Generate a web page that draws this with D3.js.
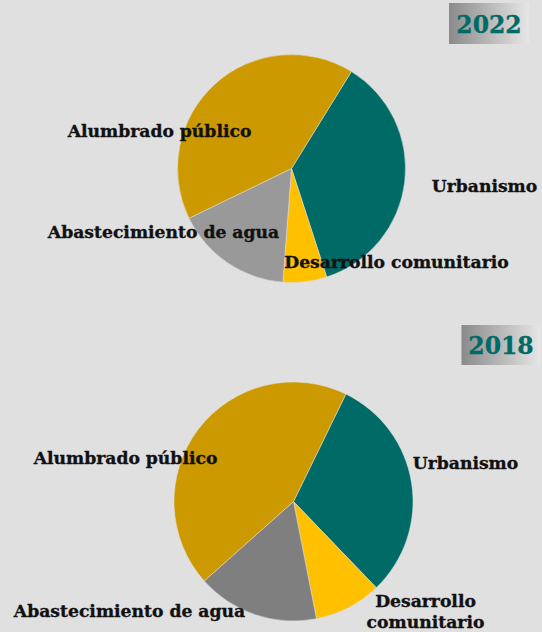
<!DOCTYPE html>
<html>
<head>
<meta charset="utf-8">
<script src="https://cdn.jsdelivr.net/npm/d3@7"></script>
<style>
  html, body { margin: 0; padding: 0; background: #e0e0e0; }
  svg { display: block; }
  .label { font-family: "DejaVu Serif", serif; font-weight: bold; font-size: 17.2px; fill: #111; stroke: #111; stroke-width: 0.35px; }
  .year { font-family: "DejaVu Serif", serif; font-weight: bold; font-size: 23.5px; fill: #006a66; stroke: #006a66; stroke-width: 0.3px; }
</style>
</head>
<body>
<div id="chart"></div>
<script>
(function() {

const w = 542;
const h = 632;

const categories = ["Urbanismo", "Desarrollo comunitario", "Abastecimiento de agua", "Alumbrado público"];
const values2022 = [36.2, 6.2, 16.6, 41.0];
const values2018 = [30.6, 9.1, 16.5, 43.8];
const years = ["2022", "2018"];

const colours2022 = ["#006a66", "#ffc000", "#999999", "#cc9a00"];
const colours2018 = ["#006a66", "#ffc000", "#7f7f7f", "#cc9a00"];

// layout for each pie: centre, radius, start angle (deg), year box, label offsets
const charts = [
    {
        year: years[0], values: values2022, colours: colours2022,
        cx: 291.5, cy: 168.5, r: 114, start: 31.7,
        box: {x: 449, y: 3, w: 80, h: 41},
        labels: [
            {dx: 193, dy: 23, lines: ["Urbanismo"]},
            {dx: 105, dy: 99, lines: ["Desarrollo comunitario"]},
            {dx: -128, dy: 69, lines: ["Abastecimiento de agua"]},
            {dx: -132, dy: -32, lines: ["Alumbrado público"]}
        ]
    },
    {
        year: years[1], values: values2018, colours: colours2018,
        cx: 293.5, cy: 501.5, r: 119.5, start: 26.0,
        box: {x: 461.5, y: 325, w: 79, h: 40},
        labels: [
            {dx: 172, dy: -33, lines: ["Urbanismo"]},
            {dx: 132, dy: 105, lines: ["Desarrollo", "comunitario"]},
            {dx: -164, dy: 115, lines: ["Abastecimiento de agua"]},
            {dx: -168, dy: -37.5, lines: ["Alumbrado público"]}
        ]
    }
];

const svg = d3.select("#chart")
    .append("svg")
    .attr("width", w)
    .attr("height", h);

const grad = svg.append("defs")
    .append("linearGradient")
    .attr("id", "boxGrad")
    .attr("x1", "0%").attr("x2", "100%")
    .attr("y1", "0%").attr("y2", "0%");
grad.append("stop").attr("offset", "0%").attr("stop-color", "#8a8a8a");
grad.append("stop").attr("offset", "100%").attr("stop-color", "#e6e6e6");

charts.forEach(function(c) {
    const startRad = c.start * Math.PI / 180;

    const pie = d3.pie()
        .sort(null)
        .startAngle(startRad)
        .endAngle(startRad + 2 * Math.PI)
        .value(function(d) { return d; });

    const arc = d3.arc()
        .innerRadius(0)
        .outerRadius(c.r);

    const g = svg.append("g")
        .attr("transform", "translate(" + c.cx + "," + c.cy + ")");

    g.selectAll("path")
        .data(pie(c.values))
        .enter()
        .append("path")
        .attr("d", arc)
        .attr("fill", function(d, i) { return c.colours[i]; })
        .attr("stroke", "#e0e0e0")
        .attr("stroke-width", 0.5);

    const labels = g.selectAll("text.label")
        .data(categories)
        .enter()
        .append("text")
        .attr("class", "label")
        .attr("text-anchor", "middle")
        .attr("x", function(d, i) { return c.labels[i].dx; })
        .attr("y", function(d, i) { return c.labels[i].dy; });

    labels.each(function(d, i) {
        const t = d3.select(this);
        c.labels[i].lines.forEach(function(line, j) {
            t.append("tspan")
                .attr("x", c.labels[i].dx)
                .attr("dy", j === 0 ? 0 : 21.6)
                .text(line);
        });
    });

    svg.append("rect")
        .attr("x", c.box.x)
        .attr("y", c.box.y)
        .attr("width", c.box.w)
        .attr("height", c.box.h)
        .attr("fill", "url(#boxGrad)");

    svg.append("text")
        .attr("class", "year")
        .attr("x", c.box.x + c.box.w / 2)
        .attr("y", c.box.y + c.box.h / 2 + 9)
        .attr("text-anchor", "middle")
        .text(c.year);
});

})();
</script>
</body>
</html>
